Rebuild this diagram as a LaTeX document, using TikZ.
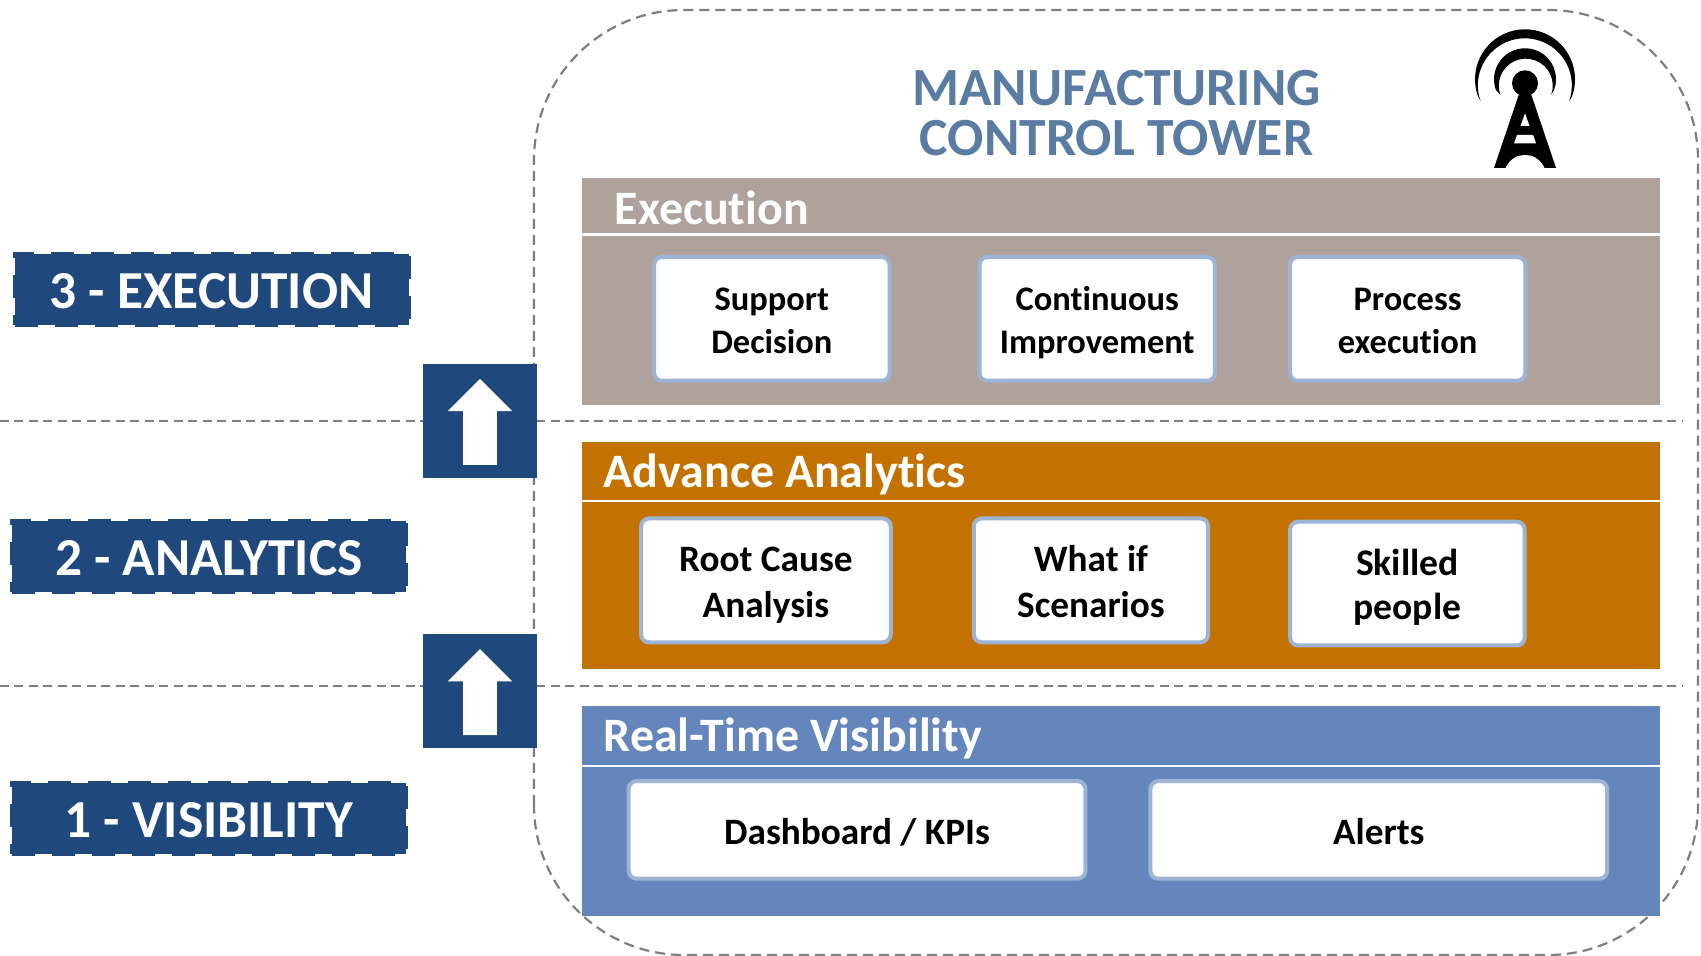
\documentclass[tikz,border=0pt]{standalone}
\usepackage{fontspec}
\setmainfont[Ligatures=NoCommon]{Carlito}
\usepackage{xcolor}
\usetikzlibrary{positioning}
\usetikzlibrary{shapes.arrows}
\definecolor{navy}{HTML}{1F497D}
\definecolor{titleblue}{HTML}{5A7CA3}
\definecolor{execcol}{HTML}{AFA29D}
\definecolor{analycol}{HTML}{C37200}
\definecolor{viscol}{HTML}{6586BC}
\definecolor{edgecol}{HTML}{9DB4D6}
\definecolor{dashcol}{HTML}{7F7F7F}
\def\ist{\rule[-.19\baselineskip]{0pt}{\baselineskip}}
\tikzset{
band/.style 2 args={fill=#1,minimum width=10.785cm,minimum height=#2,inner sep=0pt},
bandtitle/.style={text=white,font=\fontsize{13.65}{15}\selectfont\bfseries,anchor=west,inner sep=0pt},
rule/.style={draw=white,line width=.025cm},
item/.style 2 args={draw=edgecol,fill=white,line width=.04cm,rounded corners=.08cm,align=center,
	minimum width=#1,minimum height=#2,inner sep=0pt,font=\fontsize{9.8}{12}\selectfont\bfseries},
stage/.style={fill=navy,draw=navy,line width=.04cm,dash pattern=on .23cm off .17cm,text=white,
	minimum width=3.94cm,minimum height=.71cm,inner sep=0pt,text height=.38cm,font=\fontsize{15.2}{17}\selectfont\bfseries},
upbox/.style={fill=navy,minimum size=1.14cm,inner sep=0pt},
uparrow/.style={fill=white,single arrow,rotate=90,inner xsep=0pt,inner ysep=.1625cm,minimum height=.86cm,minimum width=.63cm,
	single arrow head extend=.153cm,single arrow head indent=0pt,xshift=-.09cm},
levelline/.style={draw=dashcol,line width=.018cm,dash pattern=on .09cm off .055cm},
}
\begin{document}
\begin{tikzpicture}
\useasboundingbox (0,0) rectangle (17.01,9.56);

% frame and level lines
\draw[dashcol,line width=.022cm,dash pattern=on .1cm off .06cm,rounded corners=1.5cm] (5.34,.01) rectangle (16.98,9.46);
\coordinate (l1a) at (0,5.35);
\coordinate (l1b) at (16.83,5.35);
\coordinate (l2a) at (0,2.70);
\coordinate (l2b) at (16.83,2.70);
\draw[levelline] (l1a) -- (l1b);
\draw[levelline] (l2a) -- (l2b);

% title
\node[text=titleblue,align=center,font=\fontsize{15.3}{14.4}\selectfont\bfseries] (title) at (11.165,8.43) {MANUFACTURING\\CONTROL TOWER};

% tower
\fill (15.25,8.767) +(200:.5) arc[start angle=200,end angle=-20,radius=.5] -- ++(-.03,-.05) arc[start angle=-20,end angle=200,radius=.47] -- cycle;
\fill (15.25,8.767) +(200:.31) arc[start angle=200,end angle=-20,radius=.31] -- ++(-.03,-.05) arc[start angle=-20,end angle=200,radius=.27] -- cycle;
\fill (15.25,8.727) circle (.13);
\fill (15.2,8.65) -- (15.3,8.65) -- (15.56,7.88) -- (14.94,7.88) -- cycle;
\fill[white] (15.25,8.427) -- (15.295,8.30) -- (15.205,8.30) -- cycle;
\fill[white] (15.17,8.21) -- (15.33,8.21) -- (15.36,8.127) -- (15.14,8.127) -- cycle;
\fill[white] (15.05,7.87) .. controls (15.1,7.98) and (15.18,8.01) .. (15.25,8.01) .. controls (15.32,8.01) and (15.4,7.98) .. (15.45,7.87) -- cycle;

% bands
\node[band={execcol}{2.27cm}] (exec) at (11.2075,6.645) {};
\node[band={analycol}{2.277cm}] (analy) at (11.2075,4.005) {};
\node[band={viscol}{2.094cm}] (vis) at (11.2075,1.451) {};
\draw[rule] (exec.west |- 0,7.215) -- (exec.east |- 0,7.215);
\draw[rule] (analy.west |- 0,4.548) -- (analy.east |- 0,4.548);
\draw[rule] (vis.west |- 0,1.901) -- (vis.east |- 0,1.901);
\node[bandtitle] (exectitle) at (6.14,7.48) {Execution};
\node[bandtitle] (analytitle) at (6.03,4.82) {Advance Analytics};
\node[bandtitle] (vistitle) at (6.03,2.18) {Real-Time Visibility};

% execution items
\node[item={2.354cm}{1.237cm}] (support) at (7.718,6.371) {\ist Support\\Decision\ist};
\node[item={2.354cm}{1.237cm}, right=.86cm of support] (improve) {\ist Continuous\\Improvement\ist};
\node[item={2.354cm}{1.237cm}, right=.71cm of improve] (process) {\ist Process\\execution\ist};

% analytics items
\node[item={2.497cm}{1.238cm},font=\fontsize{10.6}{13}\selectfont\bfseries] (root) at (7.659,3.756) {\ist Root Cause\\Analysis\ist};
\node[item={2.344cm}{1.238cm},font=\fontsize{10.6}{13}\selectfont\bfseries, right=.79cm of root] (whatif) {\ist What if\\Scenarios\ist};
\node[item={2.345cm}{1.238cm},font=\fontsize{10.7}{12.6}\selectfont\bfseries, right=.78cm of whatif, yshift=-.032cm] (skilled) {\ist Skilled\\people\ist};

% visibility items
\node[item={4.568cm}{.976cm},font=\fontsize{10.6}{13}\selectfont\bfseries] (dash) at (8.57,1.261) {\ist Dashboard / KPIs};
\node[item={4.568cm}{.976cm},font=\fontsize{10.6}{13}\selectfont\bfseries, right=.61cm of dash] (alerts) {\ist Alerts};

% stages and arrows
\node[stage] (st3) at (2.115,6.664) {3 - EXECUTION};
\node[stage] (st2) at (2.088,3.995) {2 - ANALYTICS};
\node[stage] (st1) at (2.088,1.37) {1 - VISIBILITY};
\node[upbox] (up1) at (4.80,5.346) {};
\node[upbox] (up2) at (4.80,2.645) {};
\node[uparrow] (arr1) at (up1) {};
\node[uparrow] (arr2) at (up2) {};
\end{tikzpicture}
\end{document}
